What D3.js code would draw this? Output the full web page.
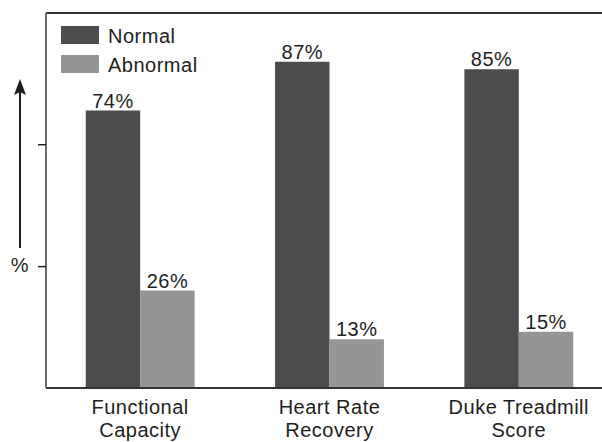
<!DOCTYPE html>
<html>
<head>
<meta charset="utf-8">
<script src="https://cdn.jsdelivr.net/npm/d3@7"></script>
<style>
  html, body { margin: 0; padding: 0; background: #fff; }
  svg { display: block; font-family: "Liberation Sans", Arial, Helvetica, sans-serif; }
  svg text { letter-spacing: 0.5px; }
</style>
</head>
<body>
<svg id="chart" width="602" height="442"></svg>
<script>
// Exercise test outcomes, share of patients per result (%)
const categories = [["Functional", "Capacity"], ["Heart Rate", "Recovery"], ["Duke Treadmill", "Score"]];
const seriesNames = ["Normal", "Abnormal"];
const normalValues = [74, 87, 85];
const abnormalValues = [26, 13, 15];
const yTickValues = [32.5, 65];

const colors = { Normal: "#4c4c4e", Abnormal: "#959595" };
const textColor = "#1e1e1e";
const fontSize = 20;

const svg = d3.select("#chart");
const W = 602, H = 442;
const plotLeft = 46, plotTop = 13, plotBottom = 388, plotRight = 613;

const keys = categories.map(c => c.join(" "));
const rows = keys.map((k, i) => ({ key: k, lines: categories[i], Normal: normalValues[i], Abnormal: abnormalValues[i] }));

const x0 = d3.scaleBand().domain(keys).range([plotLeft, plotRight]).paddingInner(0.425).paddingOuter(0.21);
const x1 = d3.scaleBand().domain(seriesNames).range([0, x0.bandwidth()]).padding(0);
const y = d3.scaleLinear().domain([0, 100]).range([plotBottom, plotTop]);

// Bars
const groups = svg.append("g").selectAll("g").data(rows).join("g")
  .attr("transform", d => `translate(${x0(d.key)},0)`);

groups.selectAll("rect").data(d => seriesNames.map(s => ({ s, v: d[s] }))).join("rect")
  .attr("x", d => x1(d.s))
  .attr("width", x1.bandwidth())
  .attr("y", d => y(d.v))
  .attr("height", d => y(0) - y(d.v))
  .attr("fill", d => colors[d.s]);

// Value labels
groups.selectAll("text.val").data(d => seriesNames.map(s => ({ s, v: d[s] }))).join("text")
  .attr("class", "val")
  .attr("x", d => x1(d.s) + x1.bandwidth() / 2)
  .attr("y", d => y(d.v) - 3)
  .attr("text-anchor", "middle")
  .attr("font-size", fontSize)
  .attr("fill", textColor)
  .text(d => d.v + "%");

// Frame: top and bottom rules
svg.append("line").attr("x1", plotLeft).attr("x2", W).attr("y1", plotTop).attr("y2", plotTop)
  .attr("stroke", "#333").attr("stroke-width", 2);
svg.append("line").attr("x1", plotLeft).attr("x2", W).attr("y1", plotBottom).attr("y2", plotBottom)
  .attr("stroke", "#333").attr("stroke-width", 2);

// Left axis with unlabeled ticks
const yAxis = d3.axisLeft(y).tickValues(yTickValues).tickSize(8).tickFormat("");
const ax = svg.append("g").attr("transform", `translate(${plotLeft},0)`).call(yAxis);
ax.select(".domain").attr("stroke", "#6a6a6a").attr("stroke-width", 2)
  .attr("d", `M0,${plotTop}V${plotBottom}`);
ax.selectAll(".tick line").attr("stroke", "#222").attr("stroke-width", 1.5);

// Category labels (two lines each)
const cat = svg.append("g").selectAll("text").data(rows).join("text")
  .attr("x", d => x0(d.key) + x0.bandwidth() / 2)
  .attr("text-anchor", "middle")
  .attr("font-size", fontSize)
  .attr("fill", textColor);
cat.selectAll("tspan").data(d => d.lines).join("tspan")
  .attr("x", function () { return d3.select(this.parentNode).attr("x"); })
  .attr("y", (d, i) => 414 + i * 23)
  .text(d => d);

// Y label "%" with upward arrow
svg.append("text").attr("x", 20).attr("y", 272).attr("text-anchor", "middle")
  .attr("font-size", fontSize).attr("fill", textColor).text("%");
svg.append("line").attr("x1", 20).attr("x2", 20).attr("y1", 248).attr("y2", 90)
  .attr("stroke", "#1e1e1e").attr("stroke-width", 2);
svg.append("path").attr("d", "M20,79 L26,95 L20,92 L14,95 Z").attr("fill", "#1e1e1e");

// Legend
const legend = svg.append("g").selectAll("g").data(seriesNames).join("g")
  .attr("transform", (d, i) => `translate(61,${26 + i * 29})`);
legend.append("rect").attr("width", 38).attr("height", 18).attr("fill", d => colors[d]);
legend.append("text").attr("x", 47).attr("y", 17).attr("font-size", fontSize)
  .attr("fill", textColor).text(d => d);
</script>
</body>
</html>
